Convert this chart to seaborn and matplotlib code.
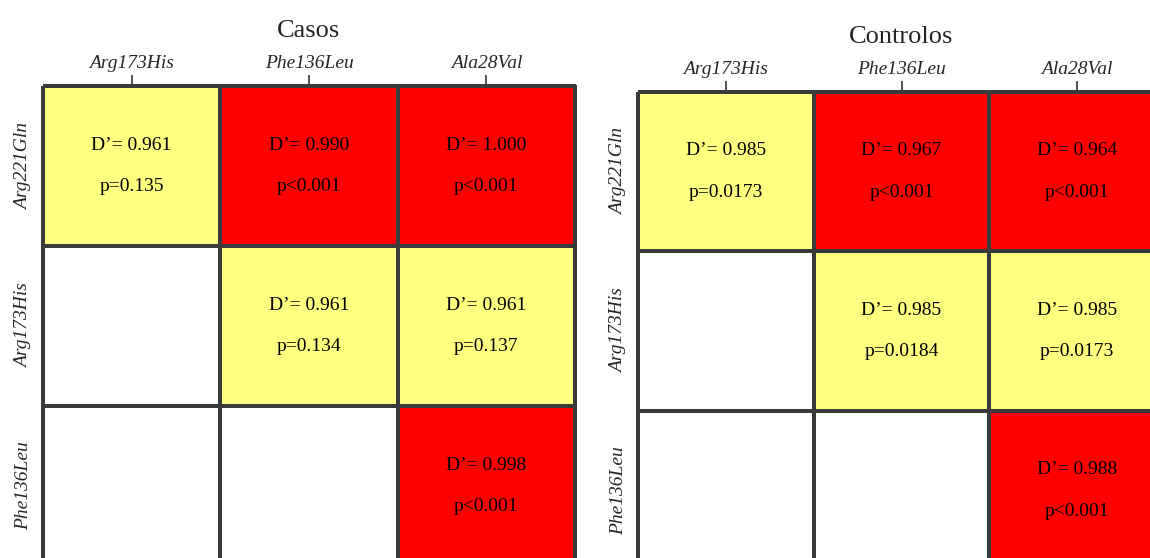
import numpy as np
import pandas as pd
import matplotlib
matplotlib.use("Agg")
import matplotlib.pyplot as plt
from matplotlib.colors import ListedColormap
import seaborn as sns

COL_LABELS = ["Arg173His", "Phe136Leu", "Ala28Val"]
ROW_LABELS = ["Arg221Gln", "Arg173His", "Phe136Leu"]

# D' values (NaN = empty lower triangle)
CASOS_D = [[0.961, 0.990, 1.000],
           [np.nan, 0.961, 0.961],
           [np.nan, np.nan, 0.998]]
CASOS_P = [["p=0.135", "p<0.001", "p<0.001"],
           ["", "p=0.134", "p=0.137"],
           ["", "", "p<0.001"]]

CONTROLOS_D = [[0.985, 0.967, 0.964],
               [np.nan, 0.985, 0.985],
               [np.nan, np.nan, 0.988]]
CONTROLOS_P = [["p=0.0173", "p<0.001", "p<0.001"],
               ["", "p=0.0184", "p=0.0173"],
               ["", "", "p<0.001"]]

CMAP = ListedColormap(["#FFFFFF", "#FFFF80", "#FF0000"])


def ld_panel(ax, d_vals, p_vals, title):
    """Triangular LD matrix: yellow = not significant, red = p<0.001."""
    cat = [[0 if p == "" else (2 if p.startswith("p<") else 1) for p in row] for row in p_vals]
    labels = [["" if p == "" else f"D\u2019= {d:.3f}\n{p}" for d, p in zip(drow, prow)]
              for drow, prow in zip(d_vals, p_vals)]
    df = pd.DataFrame(cat, index=ROW_LABELS, columns=COL_LABELS)
    sns.heatmap(
        df, ax=ax, cmap=CMAP, vmin=-0.5, vmax=2.5, cbar=False,
        annot=np.array(labels), fmt="",
        annot_kws={"color": "black", "fontsize": 14, "linespacing": 2.9,
                   "family": "Liberation Serif"},
        linewidths=1.6, linecolor="#3a3a3a",
    )
    ax.collections[0].set_clip_on(False)
    ax.xaxis.tick_top()
    ax.tick_params(axis="both", length=8, width=1.2, color="#333333")
    ax.tick_params(axis="x", pad=2)
    ax.tick_params(axis="y", pad=0)
    ax.set_xticklabels(COL_LABELS, fontsize=14, fontstyle="italic", rotation=0)
    ax.set_yticklabels(ROW_LABELS, fontsize=14, fontstyle="italic", rotation=90, va="center")
    ax.set_xlabel("")
    ax.set_ylabel("")
    ax.set_title(title, fontsize=19, pad=13)


sns.set_style("white")
plt.rcParams["font.family"] = ["Liberation Serif", "DejaVu Serif"]

W, H = 1150, 558
fig = plt.figure(figsize=(W / 100, H / 100), dpi=100)
# axes placed in pixel units, lower row intentionally runs past the bottom edge
ax1 = fig.add_axes([43 / W, (H - 566) / H, 532 / W, 480 / H])
ax2 = fig.add_axes([638 / W, (H - 570) / H, 527 / W, 478 / H])

ld_panel(ax1, CASOS_D, CASOS_P, "Casos")
ld_panel(ax2, CONTROLOS_D, CONTROLOS_P, "Controlos")

fig.savefig("out.png", dpi=100)
